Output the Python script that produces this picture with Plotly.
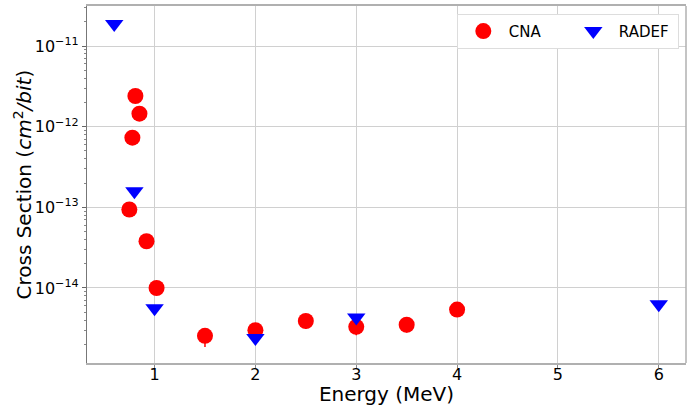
import plotly.graph_objects as go
import numpy as np

# CNA data
cna_energy = [0.75, 0.78, 0.81, 0.85, 0.92, 1.02, 1.5, 2.0, 2.5, 3.0, 3.5, 4.0]
cna_xs = [9.4e-14, 7.3e-13, 2.4e-12, 1.45e-12, 3.8e-14, 1.0e-14, 2.55e-15, 3.0e-15, 3.9e-15, 3.3e-15, 3.5e-15, 5.4e-15]
cna_err_minus = [0, 0, 0, 0, 0, 0, 0.7e-15, 0.6e-15, 0.8e-15, 0.7e-15, 0.7e-15, 0.9e-15]
cna_err_plus = [0, 0, 0, 0, 0, 0, 0.5e-15, 0.4e-15, 0.5e-15, 0.4e-15, 0.4e-15, 0.5e-15]

# RADEF data
radef_energy = [0.6, 0.8, 1.0, 2.0, 3.0, 6.0]
radef_xs = [1.87e-11, 1.58e-13, 5.6e-15, 2.4e-15, 4.3e-15, 6.3e-15]

ytick_vals = [1e-14, 1e-13, 1e-12, 1e-11]
ytick_text = ["10<sup>\u221214</sup>", "10<sup>\u221213</sup>", "10<sup>\u221212</sup>", "10<sup>\u221211</sup>"]
xtick_vals = [1, 2, 3, 4, 5, 6]

fig = go.Figure()
fig.add_trace(go.Scatter(
    x=cna_energy, y=cna_xs, mode="markers", name="CNA",
    marker=dict(symbol="circle", size=16, color="red"),
    error_y=dict(type="data", symmetric=False, array=cna_err_plus, arrayminus=cna_err_minus,
                 color="red", thickness=1.5, width=0),
))
fig.add_trace(go.Scatter(
    x=radef_energy, y=radef_xs, mode="markers", name="RADEF",
    marker=dict(symbol="triangle-down", size=16, color="blue"),
))

fig.update_layout(
    width=696, height=406,
    margin=dict(l=87, r=10, t=6, b=43, autoexpand=False),
    paper_bgcolor="white", plot_bgcolor="white",
    font=dict(family="DejaVu Sans", size=16, color="black"),
    showlegend=True,
    legend=dict(
        orientation="h", x=0.988, y=0.978, xanchor="right", yanchor="top",
        bgcolor="white", bordercolor="#dddddd", borderwidth=1,
        font=dict(size=15), itemwidth=41, entrywidth=54, entrywidthmode="pixels",
    ),
    shapes=[dict(type="line", xref="paper", yref="paper", x0=1, x1=1, y0=0, y1=1,
                 line=dict(color="#b0b0b0", width=1.5))],
    annotations=[dict(text="Cross Section (<i>cm</i><sup>2</sup><i>/bit</i>)", xref="paper", yref="paper",
                      x=-0.1085, y=0.5, xanchor="center", yanchor="middle", textangle=-90,
                      showarrow=False, font=dict(size=20))],
)
fig.update_xaxes(
    range=[0.33, 6.27], tickvals=xtick_vals, ticks="outside", ticklen=3, tickcolor="#888888",
    showgrid=True, gridcolor="#d0d0d0", gridwidth=1,
    showline=True, linecolor="#b0b0b0", linewidth=1.5, mirror=True,
    zeroline=False, automargin=False, ticklabelstandoff=-7,
    title=dict(text="Energy (MeV)", font=dict(size=20), standoff=3),
    tickfont=dict(size=16),
)
fig.update_yaxes(
    type="log", range=[-14.93, -10.504], tickvals=ytick_vals, ticktext=ytick_text,
    ticks="outside", ticklen=4, tickcolor="#666666",
    showgrid=True, gridcolor="#d0d0d0", gridwidth=1,
    showline=True, linecolor="#777777", linewidth=1.2, mirror=False,
    zeroline=False, automargin=False,
    minor=dict(ticks="outside", ticklen=2, tickcolor="#888888", showgrid=False, dtick="D1"),
    tickfont=dict(size=16),
)

fig.write_html("out.html", post_script="document.body.style.margin='0';",
               config={"displayModeBar": False})
